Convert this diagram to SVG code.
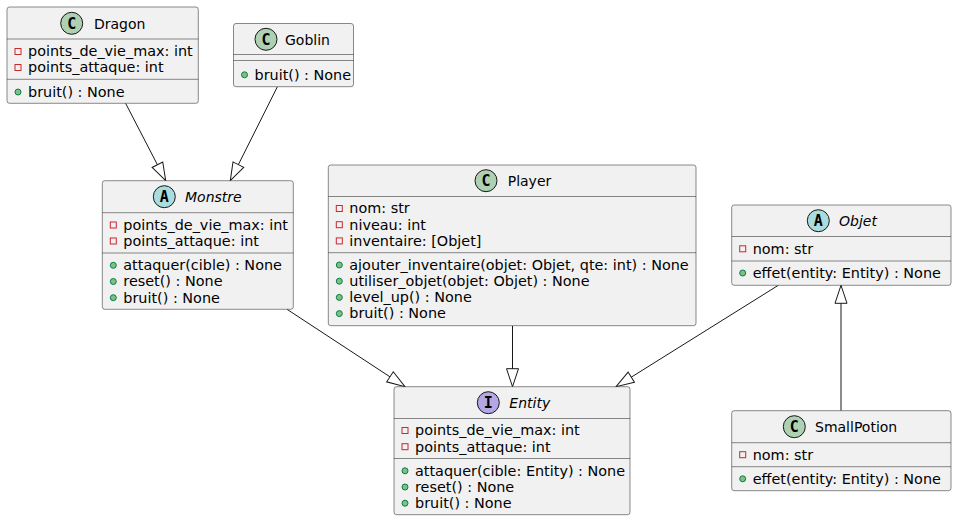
<svg xmlns="http://www.w3.org/2000/svg" width="957" height="521" viewBox="0 0 957 521">
<defs>
<style>
.box{fill:#F1F1F1;stroke:#181818;stroke-width:0.5}
.sep{stroke:#181818;stroke-width:0.5}
.t{font-family:"DejaVu Sans","Noto Sans",sans-serif;font-size:14.4px;fill:#000000}
.n{font-family:"DejaVu Sans","Noto Sans",sans-serif;font-size:14px;fill:#000000}
.it{font-style:italic}
.ltr{font-family:"DejaVu Sans Mono","Liberation Mono",monospace;font-size:15px;font-weight:bold;fill:#000000;text-anchor:middle}
.cC{fill:#ADD1B2;stroke:#181818;stroke-width:1}
.cA{fill:#A9DCDF;stroke:#181818;stroke-width:1}
.cI{fill:#B4A7E5;stroke:#181818;stroke-width:1}
.priv{fill:none;stroke:#C82930;stroke-width:1}
.pub{fill:#84BE84;stroke:#038048;stroke-width:1}
.edge{fill:none;stroke:#181818;stroke-width:1;marker-end:url(#ext)}
</style>
<marker id="ext" markerUnits="userSpaceOnUse" markerWidth="22" markerHeight="16" viewBox="-1 -8 22 16" refX="18" refY="0" orient="auto">
<path d="M0,-6 L18,0 L0,6 Z" fill="#FFFFFF" stroke="#181818" stroke-width="1"/>
</marker>
</defs>
<rect x="0" y="0" width="957" height="521" fill="#FFFFFF"/>

<g id="connectors">
<path class="edge" d="M125.6,103.3 L165.7,180.7"/>
<path class="edge" d="M277.4,86.7 L230.3,180.7"/>
<path class="edge" d="M287,309.3 L405,386.7"/>
<path class="edge" d="M512.5,325.7 L512.5,386.7"/>
<path class="edge" d="M778.3,285.3 L616,386.7"/>
<path class="edge" d="M841,410.7 L841,285.3"/>
</g>

<g id="Dragon">
<rect class="box" x="7" y="7" width="191.3" height="96.3" rx="2.5"/>
<circle class="cC" cx="71.7" cy="23.3" r="11"/>
<text class="ltr" x="71.7" y="28.8">C</text>
<text class="n" x="94" y="28.5">Dragon</text>
<line class="sep" x1="7" y1="39" x2="198.3" y2="39"/>
<rect class="priv" x="15" y="48.5" width="6" height="6"/>
<text class="t" x="28" y="56.3">points_de_vie_max: int</text>
<rect class="priv" x="15" y="64.5" width="6" height="6"/>
<text class="t" x="28" y="72.3">points_attaque: int</text>
<line class="sep" x1="7" y1="79.3" x2="198.3" y2="79.3"/>
<circle class="pub" cx="18" cy="92" r="3"/>
<text class="t" x="28" y="96.8">bruit() : None</text>
</g>

<g id="Goblin">
<rect class="box" x="233.5" y="23.5" width="120" height="63.2" rx="2.5"/>
<circle class="cC" cx="266" cy="39.3" r="11"/>
<text class="ltr" x="266" y="44.8">C</text>
<text class="n" x="285" y="44.5">Goblin</text>
<line class="sep" x1="233.5" y1="54.5" x2="353.5" y2="54.5"/>
<line class="sep" x1="233.5" y1="60.5" x2="353.5" y2="60.5"/>
<circle class="pub" cx="244.5" cy="74.8" r="3"/>
<text class="t" x="254.5" y="79.6">bruit() : None</text>
</g>

<g id="Monstre">
<rect class="box" x="102.3" y="180.7" width="191" height="128.6" rx="2.5"/>
<circle class="cA" cx="164.3" cy="196.7" r="11"/>
<text class="ltr" x="164.3" y="202.2">A</text>
<text class="n it" x="185" y="201.9">Monstre</text>
<line class="sep" x1="102.3" y1="212.7" x2="293.3" y2="212.7"/>
<rect class="priv" x="110.3" y="222" width="6" height="6"/>
<text class="t" x="123.3" y="229.8">points_de_vie_max: int</text>
<rect class="priv" x="110.3" y="238" width="6" height="6"/>
<text class="t" x="123.3" y="245.8">points_attaque: int</text>
<line class="sep" x1="102.3" y1="253" x2="293.3" y2="253"/>
<circle class="pub" cx="113.3" cy="265.3" r="3"/>
<text class="t" x="123.3" y="270.1">attaquer(cible) : None</text>
<circle class="pub" cx="113.3" cy="281.5" r="3"/>
<text class="t" x="123.3" y="286.3">reset() : None</text>
<circle class="pub" cx="113.3" cy="297.7" r="3"/>
<text class="t" x="123.3" y="302.5">bruit() : None</text>
</g>

<g id="Player">
<rect class="box" x="328.3" y="165" width="367.7" height="160.7" rx="2.5"/>
<circle class="cC" cx="486" cy="180.7" r="11"/>
<text class="ltr" x="486" y="186.2">C</text>
<text class="n" x="507.7" y="185.9">Player</text>
<line class="sep" x1="328.3" y1="196.5" x2="696" y2="196.5"/>
<rect class="priv" x="336.3" y="205.5" width="6" height="6"/>
<text class="t" x="349.3" y="213.3">nom: str</text>
<rect class="priv" x="336.3" y="221.7" width="6" height="6"/>
<text class="t" x="349.3" y="229.5">niveau: int</text>
<rect class="priv" x="336.3" y="237.9" width="6" height="6"/>
<text class="t" x="349.3" y="245.7">inventaire: [Objet]</text>
<line class="sep" x1="328.3" y1="252.7" x2="696" y2="252.7"/>
<circle class="pub" cx="339.3" cy="265" r="3"/>
<text class="t" x="349.3" y="269.8">ajouter_inventaire(objet: Objet, qte: int) : None</text>
<circle class="pub" cx="339.3" cy="281.2" r="3"/>
<text class="t" x="349.3" y="286">utiliser_objet(objet: Objet) : None</text>
<circle class="pub" cx="339.3" cy="297.4" r="3"/>
<text class="t" x="349.3" y="302.2">level_up() : None</text>
<circle class="pub" cx="339.3" cy="313.6" r="3"/>
<text class="t" x="349.3" y="318.4">bruit() : None</text>
</g>

<g id="Objet">
<rect class="box" x="731.7" y="205" width="219.3" height="80.3" rx="2.5"/>
<circle class="cA" cx="818.3" cy="220.7" r="11"/>
<text class="ltr" x="818.3" y="226.2">A</text>
<text class="n it" x="839" y="225.9">Objet</text>
<line class="sep" x1="731.7" y1="236.5" x2="951" y2="236.5"/>
<rect class="priv" x="739.7" y="245.8" width="6" height="6"/>
<text class="t" x="752.7" y="253.6">nom: str</text>
<line class="sep" x1="731.7" y1="261" x2="951" y2="261"/>
<circle class="pub" cx="742.7" cy="273" r="3"/>
<text class="t" x="752.7" y="277.8">effet(entity: Entity) : None</text>
</g>

<g id="Entity">
<rect class="box" x="394" y="386.7" width="236" height="128" rx="2.5"/>
<circle class="cI" cx="488.3" cy="402.7" r="11"/>
<text class="ltr" x="488.3" y="408.2">I</text>
<text class="n it" x="509.3" y="407.9">Entity</text>
<line class="sep" x1="394" y1="418.5" x2="630" y2="418.5"/>
<rect class="priv" x="402" y="427.5" width="6" height="6"/>
<text class="t" x="415" y="435.3">points_de_vie_max: int</text>
<rect class="priv" x="402" y="443.7" width="6" height="6"/>
<text class="t" x="415" y="451.5">points_attaque: int</text>
<line class="sep" x1="394" y1="458.5" x2="630" y2="458.5"/>
<circle class="pub" cx="405" cy="470.8" r="3"/>
<text class="t" x="415" y="475.6">attaquer(cible: Entity) : None</text>
<circle class="pub" cx="405" cy="487" r="3"/>
<text class="t" x="415" y="491.8">reset() : None</text>
<circle class="pub" cx="405" cy="503.2" r="3"/>
<text class="t" x="415" y="508">bruit() : None</text>
</g>

<g id="SmallPotion">
<rect class="box" x="731.7" y="410.7" width="219.3" height="80" rx="2.5"/>
<circle class="cC" cx="794.3" cy="426.7" r="11"/>
<text class="ltr" x="794.3" y="432.2">C</text>
<text class="n" x="815" y="431.9">SmallPotion</text>
<line class="sep" x1="731.7" y1="442.7" x2="951" y2="442.7"/>
<rect class="priv" x="739.7" y="451.7" width="6" height="6"/>
<text class="t" x="752.7" y="459.5">nom: str</text>
<line class="sep" x1="731.7" y1="466.7" x2="951" y2="466.7"/>
<circle class="pub" cx="742.7" cy="478.8" r="3"/>
<text class="t" x="752.7" y="483.6">effet(entity: Entity) : None</text>
</g>
</svg>
